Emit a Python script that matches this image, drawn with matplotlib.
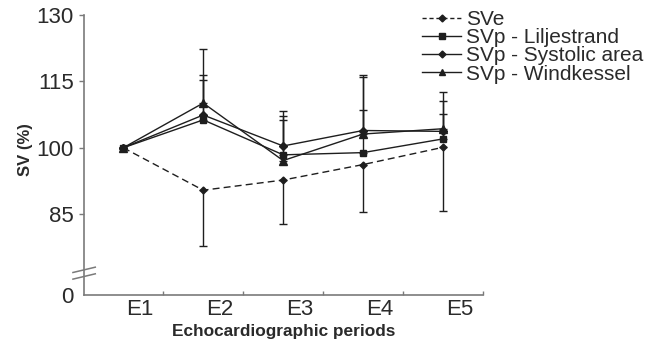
import numpy as np
import matplotlib
matplotlib.use('Agg')
import matplotlib.pyplot as plt
from matplotlib.lines import Line2D

plt.rcParams['font.family'] = ['Liberation Sans', 'DejaVu Sans']

# data
periods = ['E1', 'E2', 'E3', 'E4', 'E5']
sve = [100, 90.4, 92.7, 96.2, 100.1]
sve_sd = [0, 12.7, 9.9, 10.7, 14.3]          # drawn downward only
lilj = [100, 106.3, 98.4, 98.9, 102.0]
lilj_sd = [0, 9.0, 8.8, 17.6, 5.6]           # drawn upward only
syst = [100, 107.4, 100.4, 103.9, 103.7]
syst_sd = [0, 9.1, 7.9, 12.0, 8.9]
wind = [100, 110.1, 97.1, 103.1, 104.3]
wind_sd = [0, 12.2, 9.2, 5.5, 6.2]

y_ticks = [85, 100, 115, 130]
zero_pos = 66.7   # where the "0" sits below the axis break

col = '#1e1e1e'
spine_col = '#7a7a7a'

fig = plt.figure(figsize=(6.47, 3.5), dpi=100)
ax = fig.add_axes([0.130, 0.157, 0.6165, 0.800])

x = np.arange(len(periods))
zeros = [0] * len(periods)

ax.errorbar(x, sve, yerr=[sve_sd, zeros], color=col, lw=1.0, ls=(0, (5, 3)),
            marker='D', ms=3.5, ecolor=col, elinewidth=1.0, capsize=3, capthick=1.0,
            label='SVe')
ax.errorbar(x, wind, yerr=[zeros, wind_sd], color=col, lw=1.0, marker='^', ms=5.5,
            ecolor=col, elinewidth=1.0, capsize=3, capthick=1.0, label='SVp - Windkessel')
ax.errorbar(x, syst, yerr=[zeros, syst_sd], color=col, lw=1.0, marker='D', ms=4,
            ecolor=col, elinewidth=1.0, capsize=3, capthick=1.0, label='SVp - Systolic area')
ax.errorbar(x, lilj, yerr=[zeros, lilj_sd], color=col, lw=1.0, marker='s', ms=5,
            ecolor=col, elinewidth=1.0, capsize=3, capthick=1.0, label='SVp - Liljestrand')

ax.set_xlim(-0.49, 4.5)
ax.set_ylim(zero_pos, 130)

# y axis with a break between 0 and 85
ax.set_yticks([zero_pos] + y_ticks)
ax.set_yticklabels(['0'] + [str(v) for v in y_ticks])
ax.tick_params(axis='y', direction='out', length=3.5, width=1, color=spine_col,
               labelsize=16, labelcolor='#2a2a2a', pad=4)
ax.yaxis.get_major_ticks()[0].tick1line.set_visible(False)

# category labels sit a bit right of the points, ticks between categories
ax.set_xticks(x + 0.21)
ax.set_xticklabels(periods)
ax.set_xticks(np.arange(0.5, 5, 1), minor=True)
ax.tick_params(axis='x', which='major', length=0, labelsize=16, labelcolor='#2a2a2a', pad=3)
ax.tick_params(axis='x', which='minor', direction='in', length=3, width=1, color=spine_col)

for s in ['top', 'right']:
    ax.spines[s].set_visible(False)
for s in ['left', 'bottom']:
    ax.spines[s].set_color(spine_col)
    ax.spines[s].set_linewidth(1.2)

# break marks on the y axis
trans = ax.get_yaxis_transform()
for yb in [70.9, 72.4]:
    ax.plot([-0.028, 0.028], [yb - 0.6, yb + 0.6], transform=trans, color=spine_col,
            lw=1.1, clip_on=False)

ax.set_xlabel('Echocardiographic periods', fontsize=12.4, fontweight='bold',
              color='#2a2a2a', labelpad=3)
ax.set_ylabel('SV (%)', fontsize=12, fontweight='bold', color='#2a2a2a')
ax.yaxis.set_label_coords(-0.128, 0.52)

handles = [
    Line2D([], [], color=col, lw=1.0, ls=(0, (3, 2)), marker='D', ms=3.5),
    Line2D([], [], color=col, lw=1.0, marker='s', ms=4.5),
    Line2D([], [], color=col, lw=1.0, marker='D', ms=3.5),
    Line2D([], [], color=col, lw=1.0, marker='^', ms=4.5),
]
labels = ['SVe', 'SVp - Liljestrand', 'SVp - Systolic area', 'SVp - Windkessel']
fig.legend(handles, labels, loc='upper left', bbox_to_anchor=(0.652, 0.971),
           frameon=False, fontsize=15, handlelength=1.9, handletextpad=0.2,
           labelspacing=-0.04, borderpad=0, borderaxespad=0, labelcolor='#2a2a2a')

plt.savefig('out.png', dpi=100)
